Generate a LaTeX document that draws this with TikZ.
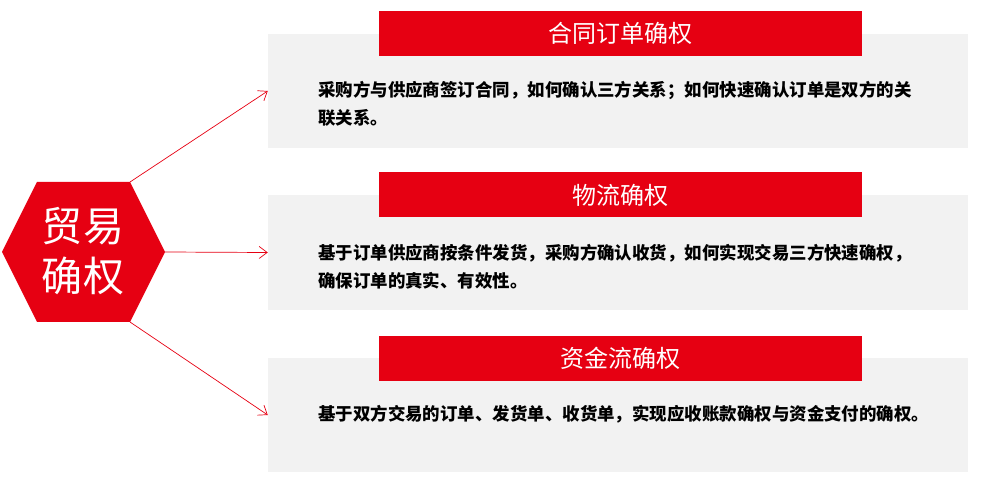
\documentclass[tikz,border=0pt]{standalone}
\usepackage{fontspec}
\usetikzlibrary{arrows.meta}
\newfontfamily\cjk{Noto Sans CJK SC}
\definecolor{tradered}{HTML}{E60012}
\definecolor{panelgray}{HTML}{F2F2F2}
\tikzset{
  panel/.style={fill=panelgray, minimum width=21cm, minimum height=3.42cm, inner sep=0pt},
  headbar/.style={fill=tradered, text=white, minimum width=14.49cm, minimum height=1.35cm, inner sep=0pt, font=\cjk\fontsize{20.5pt}{24pt}\selectfont},
  bodytext/.style={anchor=west, align=left, inner sep=0pt, font=\cjk\bfseries\fontsize{14.9pt}{23.9pt}\selectfont},
  link/.style={draw=tradered, line width=0.6pt, -{Straight Barb[length=2.4mm, width=3.6mm]}}
}

\begin{document}
\begin{tikzpicture}[x=0.03cm, y=-0.03cm]
\useasboundingbox (0,0) rectangle (1000,484);
\node (box1) at (618,91) [panel] {};
\node (box2) at (618,252.5) [panel] {};
\node (box3) at (618,415) [panel] {};
\node (head1) at (620.5,33.5) [headbar] {合同订单确权};
\node (head2) at (620.5,195) [headbar] {物流确权};
\node (head3) at (620.5,358.5) [headbar] {资金流确权};
\node (txt1) at (318,104) [bodytext] {采购方与供应商签订合同，如何确认三方关系；如何快速确认订单是双方的关\\联关系。};
\node (txt2) at (318,266.5) [bodytext] {基于订单供应商按条件发货，采购方确认收货，如何实现交易三方快速确权，\\确保订单的真实、有效性。};
\node (txt3) at (318,414) [bodytext] {基于双方交易的订单、发货单、收货单，实现应收账款确权与资金支付的确权。};
\coordinate (hexL) at (2,252);
\coordinate (hexTL) at (37,182);
\coordinate (hexTR) at (130,182);
\coordinate (hexR) at (165,252);
\coordinate (hexBR) at (130,322);
\coordinate (hexBL) at (37,322);
\fill [tradered] (hexL) -- (hexTL) -- (hexTR) -- (hexR) -- (hexBR) -- (hexBL) -- cycle;
\node (hub) at (83,251) [text=white, align=center, inner sep=0pt, font=\cjk\fontsize{35pt}{42.7pt}\selectfont] {贸易\\确权};
\draw [link] (hexTR) -- (box1.west);
\draw [link] (hexR) -- (box2.west);
\draw [link] (hexBR) -- (box3.west);
\end{tikzpicture}
\end{document}
